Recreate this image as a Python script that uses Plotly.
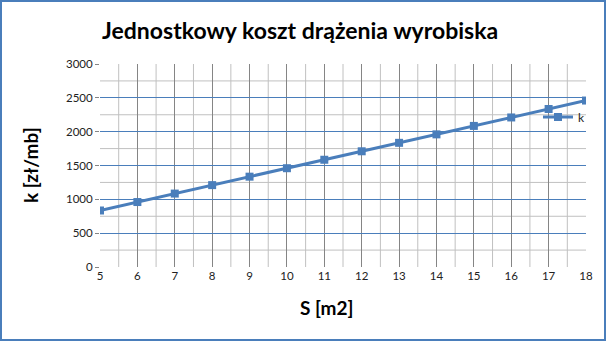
import numpy as np
import plotly.graph_objects as go

S = [5, 6, 7, 8, 9, 10, 11, 12, 13, 14, 15, 16, 17, 18]
k = [835, 960, 1085, 1210, 1335, 1460, 1585, 1710, 1835, 1960, 2085, 2210, 2335, 2460]

title = "Jednostkowy koszt drążenia wyrobiska"
x_title = "S [m2]"
y_title = "k [zł/mb]"
series_name = "k"

BLUE = "#4a7ebb"
MINOR = "#c0c0c0"
W, H = 606, 341
ML, MR, MT, MB = 100, 20, 64, 74
PW, PH = W - ML - MR, H - MT - MB
XR, YR = [5, 18], [0, 3000]

fig = go.Figure()
fig.add_trace(go.Scatter(
    x=S, y=k, name=series_name, mode="lines+markers",
    line=dict(color=BLUE, width=3),
    marker=dict(symbol="square", size=8, color=BLUE),
))

shapes = []
for v in np.arange(XR[0] + 0.5, XR[1], 1.0):
    shapes.append(dict(type="line", xref="x", yref="paper", x0=v, x1=v, y0=0, y1=1,
                       line=dict(color=MINOR, width=1), layer="below"))
for v in np.arange(YR[0] + 250, YR[1], 500):
    shapes.append(dict(type="line", xref="paper", yref="y", x0=0, x1=1, y0=v, y1=v,
                       line=dict(color=MINOR, width=1), layer="below"))
shapes.append(dict(type="rect", xref="paper", yref="paper",
                   x0=-(ML - 1) / PW, x1=1 + (MR - 1) / PW,
                   y0=-(MB - 1) / PH, y1=1 + (MT - 1) / PH,
                   line=dict(color=BLUE, width=2), layer="above"))

fig.update_layout(
    width=W, height=H,
    margin=dict(l=ML, r=MR, t=MT, b=MB),
    paper_bgcolor="white", plot_bgcolor="white",
    font=dict(family="Lato, Carlito, sans-serif", size=11.5, color="#222"),
    showlegend=True,
    legend=dict(x=(538 - ML) / PW, y=1 - (117 - MT) / PH, xanchor="left", yanchor="middle",
                bgcolor="rgba(0,0,0,0)", font=dict(size=12), itemwidth=30),
    xaxis=dict(range=XR, dtick=1, tick0=5, showgrid=True, gridcolor="#858585", gridwidth=1,
               zeroline=False, showline=False, ticks="", tickfont=dict(size=11.5)),
    yaxis=dict(range=YR, dtick=500, tick0=0, showgrid=True, gridcolor=BLUE, gridwidth=1,
               zeroline=False, showline=False, ticks="outside", ticklen=4, tickcolor="#858585",
               tickfont=dict(size=11.5)),
    annotations=[
        dict(text="<b>" + title + "</b>", xref="paper", yref="paper",
             x=(300 - ML) / PW, y=1 + (MT - 30) / PH, xanchor="center", yanchor="middle",
             showarrow=False, font=dict(size=23, color="black")),
        dict(text="<b>" + x_title + "</b>", xref="paper", yref="paper",
             x=(326 - ML) / PW, y=-(307 - MT - PH) / PH, xanchor="center", yanchor="middle",
             showarrow=False, font=dict(size=19, color="black")),
        dict(text="<b>" + y_title + "</b>", xref="paper", yref="paper",
             x=-(ML - 30) / PW, y=1 - (165 - MT) / PH, xanchor="center", yanchor="middle", textangle=-90,
             showarrow=False, font=dict(size=19, color="black")),
    ],
    shapes=shapes,
)

fig.write_html("out.html")
